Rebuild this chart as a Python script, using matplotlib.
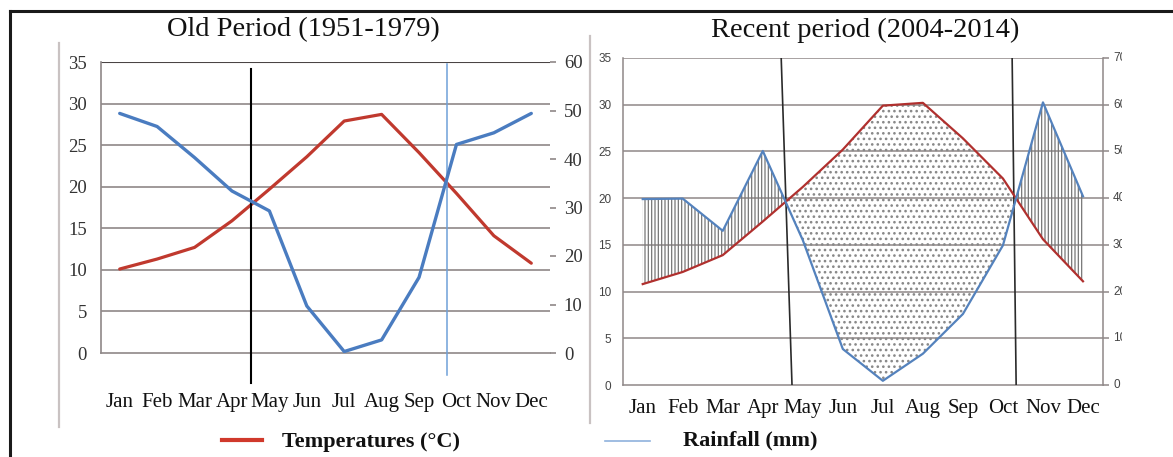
import numpy as np
import matplotlib
matplotlib.use("Agg")
import matplotlib.pyplot as plt
from matplotlib.lines import Line2D
from matplotlib.transforms import Bbox, TransformedBbox

# ================================
# DATA
# ================================
months = ['Jan', 'Feb', 'Mar', 'Apr', 'May', 'Jun', 'Jul', 'Aug', 'Sep', 'Oct', 'Nov', 'Dec']

# Old period (1951-1979)
old_temp = [10.1, 11.3, 12.7, 15.9, 19.7, 23.6, 27.9, 28.7, 24.1, 19.2, 14.1, 10.8]   # °C
old_rain = [49.4, 46.7, 40.3, 33.4, 29.3, 9.7, 0.3, 2.7, 15.6, 43.0, 45.4, 49.4]      # mm

# Recent period (2004-2014)
new_temp = [10.8, 12.1, 13.9, 17.5, 21.2, 25.2, 29.9, 30.2, 26.4, 22.1, 15.6, 11.1]
new_rain = [39.8, 39.9, 33.0, 50.1, 31.0, 7.7, 0.9, 6.7, 15.2, 29.9, 60.5, 40.4]

temp_ticks = [0, 5, 10, 15, 20, 25, 30, 35]
old_rain_ticks = [0, 10, 20, 30, 40, 50, 60]
new_rain_ticks = [0, 10, 20, 30, 40, 50, 60, 70]

# season limits drawn as vertical markers (x in month index units)
old_dry_start = 3.5
old_dry_end = 8.74
new_dry_start = (3.46, 3.73)   # (top, bottom) - the line is slightly tilted
new_dry_end = (9.23, 9.33)

# ================================
# STYLE
# ================================
SERIF = 'Liberation Serif'
SANS = 'Liberation Sans'
GRID = '#8f8888'
RED_OLD = '#c0392e'
BLUE_OLD = '#4a7cc0'
RED_NEW = '#b0302e'
BLUE_NEW = '#5482bd'

W, H = 1173, 457
fig = plt.figure(figsize=(W / 100, H / 100), dpi=100)
fig.patch.set_facecolor('white')


def fx(px):
    return px / W


def fy(py):
    return 1 - py / H


x = np.arange(len(months))

# ================================
# LEFT PANEL - OLD PERIOD
# ================================
ax1 = fig.add_axes([fx(101), fy(353), fx(550 - 101), (353 - 62) / H])
ax1.set_xlim(-0.5, 11.5)
ax1.set_ylim(0, 35)
for t in temp_ticks[1:-1]:
    ax1.axhline(t, color=GRID, lw=1.2, zorder=1)
ax1.axhline(35, color='#4a4444', lw=1.5, zorder=1)
for side in ['top', 'right']:
    ax1.spines[side].set_visible(False)
ax1.spines['left'].set_color(GRID)
ax1.spines['bottom'].set_color(GRID)
ax1.spines['left'].set_linewidth(1.2)
ax1.spines['bottom'].set_linewidth(1.2)

ax1.set_yticks(temp_ticks)
ax1.set_yticklabels([str(t) for t in temp_ticks], fontfamily=SERIF, fontsize=13.5, color='#333333')
ax1.tick_params(axis='y', length=0, pad=10)
ax1.set_xticks(x)
ax1.set_xticklabels(months, fontfamily=SERIF, fontsize=15, color='#111111')
ax1.tick_params(axis='x', length=0, pad=29)

ax1.plot(x, old_temp, color=RED_OLD, lw=2.3, zorder=4, solid_capstyle='round')

ax1r = ax1.twinx()
ax1r.set_ylim(0, 60)
ax1r.plot(x, old_rain, color=BLUE_OLD, lw=2.4, zorder=4, solid_capstyle='round')
for side in ['top', 'right', 'left', 'bottom']:
    ax1r.spines[side].set_visible(False)
ax1r.set_yticks(old_rain_ticks)
ax1r.set_yticklabels([str(t) for t in old_rain_ticks], fontfamily=SERIF, fontsize=13.5, color='#333333')
ax1r.tick_params(axis='y', length=4, width=1.2, color=GRID, pad=6, direction='out')

# vertical season markers
ax1.plot([old_dry_start, old_dry_start], [34.2, -3.6], color='black', lw=1.5, clip_on=False, zorder=5)
ax1.plot([old_dry_end, old_dry_end], [34.7, -2.7], color='#6fa0d8', lw=1.1, clip_on=False, zorder=5)

# ================================
# RIGHT PANEL - RECENT PERIOD
# ================================
ax2 = fig.add_axes([fx(622.7), fy(385), fx(1103 - 622.7), (385 - 58) / H])
ax2.set_xlim(-0.5, 11.5)
ax2.set_ylim(0, 35)
for t in temp_ticks[1:]:
    ax2.axhline(t, color=GRID, lw=1.1, zorder=1)
ax2.spines['top'].set_visible(False)
for side in ['left', 'right', 'bottom']:
    ax2.spines[side].set_color(GRID)
    ax2.spines[side].set_linewidth(1.1)

ax2.set_yticks(temp_ticks)
ax2.set_yticklabels([str(t) for t in temp_ticks], fontfamily=SANS, fontsize=8.5, color='#444444')
ax2.tick_params(axis='y', length=0, pad=8)
ax2.set_xticks(x)
ax2.set_xticklabels(months, fontfamily=SERIF, fontsize=15, color='#111111')
ax2.tick_params(axis='x', length=0, pad=10)

ax2r = ax2.twinx()
ax2r.set_ylim(0, 70)
for side in ['top', 'right', 'left', 'bottom']:
    ax2r.spines[side].set_visible(False)
ax2r.set_yticks(new_rain_ticks)
ax2r.set_yticklabels([])
ax2r.tick_params(axis='y', length=4, width=1.1, color=GRID, direction='out')

# right-hand rainfall labels, cut off at the edge of the frame
clip = TransformedBbox(Bbox([[0, 0], [fx(1122), 1]]), fig.transFigure)
for t in new_rain_ticks:
    lbl = ax2r.text(1.0 + 10 / (1103 - 622.7), t, str(t), transform=ax2r.get_yaxis_transform(),
                    fontfamily=SANS, fontsize=8.5, color='#444444',
                    ha='left', va='center')
    lbl.set_clip_box(clip)
    lbl.set_clip_on(True)

# humid (hatched) and dry (dotted) periods: rainfall vs 2 x temperature
temp_as_rain = 2 * np.array(new_temp)
rain = np.array(new_rain)
plt.rcParams['hatch.color'] = '#7a7a7a'
plt.rcParams['hatch.linewidth'] = 0.9
ax2r.fill_between(x, rain, temp_as_rain, where=rain >= temp_as_rain, interpolate=True,
                  facecolor='none', edgecolor='#777777', hatch='|||||', linewidth=0, zorder=2)
plt.rcParams['hatch.linewidth'] = 1.1
ax2r.fill_between(x, rain, temp_as_rain, where=rain <= temp_as_rain, interpolate=True,
                  facecolor='none', edgecolor='#888888', hatch='...', linewidth=0, zorder=2)

ax2r.plot(x, temp_as_rain, color=RED_NEW, lw=1.6, zorder=4)
ax2r.plot(x, rain, color=BLUE_NEW, lw=1.6, zorder=4)

ax2.plot(list(new_dry_start), [35, 0], color='#2a2a2a', lw=1.2, zorder=5)
ax2.plot(list(new_dry_end), [35, 0], color='#2a2a2a', lw=1.2, zorder=5)

# ================================
# TITLES, FRAME, LEGEND
# ================================
fig.text(fx(303), fy(30), 'Old Period (1951-1979)', fontfamily=SERIF, fontsize=20.5,
         ha='center', va='center', color='#111111')
fig.text(fx(865), fy(30), 'Recent period (2004-2014)', fontfamily=SERIF, fontsize=20.5,
         ha='center', va='center', color='#111111')

# page frame
fig.add_artist(Line2D([fx(10), 1], [fy(11), fy(11)], color='#1a1a1a', lw=2.2))
fig.add_artist(Line2D([fx(10), fx(10)], [fy(11), 0], color='#1a1a1a', lw=2.2))
# light separators on the left of each chart
fig.add_artist(Line2D([fx(59), fx(59)], [fy(43), fy(427)], color='#c9c2c2', lw=1.6))
fig.add_artist(Line2D([fx(590), fx(590)], [fy(36), fy(423)], color='#c9c2c2', lw=1.6))

# legend
fig.add_artist(Line2D([fx(222), fx(262)], [fy(440), fy(440)], color='#d0392b', lw=3))
fig.text(fx(282), fy(442), 'Temperatures (°C)', fontfamily=SERIF, fontsize=16,
         fontweight='bold', ha='left', va='center', color='#111111')
fig.add_artist(Line2D([fx(605), fx(650)], [fy(441), fy(441)], color='#8fb2dd', lw=1.2))
fig.text(fx(683), fy(440), 'Rainfall (mm)', fontfamily=SERIF, fontsize=16,
         fontweight='bold', ha='left', va='center', color='#111111')

fig.savefig('out.png', dpi=100)
